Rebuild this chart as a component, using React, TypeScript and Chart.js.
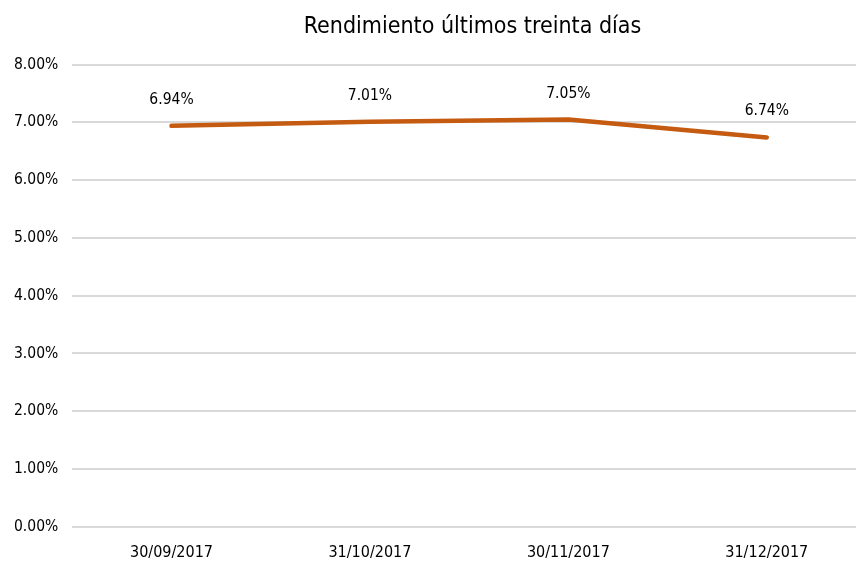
import React, { useEffect, useRef } from "react";
import { Chart, registerables } from "chart.js";

Chart.register(...registerables);

const categories = ["30/09/2017", "31/10/2017", "30/11/2017", "31/12/2017"];
const rendimiento = [6.94, 7.01, 7.05, 6.74];
const titleText = "Rendimiento últimos treinta días";
const FONT = "'Liberation Sans Narrow', 'DejaVu Sans Condensed', sans-serif";
const LINE_COLOR = "#C55A11";

const dataLabels = {
  id: "dataLabels",
  afterDatasetsDraw(chart: any) {
    const ctx = chart.ctx;
    const meta = chart.getDatasetMeta(0);
    ctx.save();
    ctx.font = `15.5px ${FONT}`;
    ctx.fillStyle = "#000000";
    ctx.textAlign = "center";
    ctx.textBaseline = "middle";
    meta.data.forEach((pt: any, i: number) => {
      ctx.fillText(rendimiento[i].toFixed(2) + "%", pt.x, pt.y - 26);
    });
    ctx.restore();
  },
};

export default function App() {
  const ref = useRef<HTMLCanvasElement>(null);
  useEffect(() => {
    if (!ref.current) return;
    const chart = new Chart(ref.current, {
      type: "line",
      data: {
        labels: categories,
        datasets: [
          {
            data: rendimiento,
            borderColor: LINE_COLOR,
            borderWidth: 4.5,
            borderCapStyle: "round",
            borderJoinStyle: "round",
            pointRadius: 0,
            tension: 0,
            yAxisID: "y",
          },
        ],
      },
      options: {
        responsive: false,
        animation: false,
        layout: { padding: { left: 0, right: 0, top: 0, bottom: 0 } },
        plugins: {
          legend: { display: false },
          tooltip: { enabled: false },
          title: {
            display: true,
            text: titleText,
            color: "#000000",
            font: { family: FONT, size: 23, weight: "normal" },
            padding: { top: 13, bottom: 24 },
          },
        },
        scales: {
          x: {
            offset: true,
            grid: { display: false, drawTicks: false },
            border: { display: false },
            ticks: { color: "#000000", font: { family: FONT, size: 16 }, padding: 16, maxRotation: 0 },
          },
          y: {
            min: 0,
            max: 8,
            grid: { color: "#D9D9D9", lineWidth: 2, drawTicks: false },
            border: { display: false },
            ticks: {
              stepSize: 1,
              color: "#000000",
              padding: 14,
              font: { family: FONT, size: 15.5 },
              callback: (v: any) => Number(v).toFixed(2) + "%",
            },
          },
          y2: {
            position: "right",
            display: true,
            grid: { display: false, drawTicks: false },
            border: { display: false },
            ticks: { display: false },
            afterFit: (scale: any) => {
              scale.width = 79;
            },
          },
        },
      },
      plugins: [dataLabels],
    });
    return () => chart.destroy();
  }, []);
  return (
    <div style={{ position: "fixed", left: 0, top: 0, width: 856, height: 561, overflow: "hidden", background: "#fff" }}>
      <canvas ref={ref} width={945} height={578} style={{ display: "block" }} />
    </div>
  );
}
